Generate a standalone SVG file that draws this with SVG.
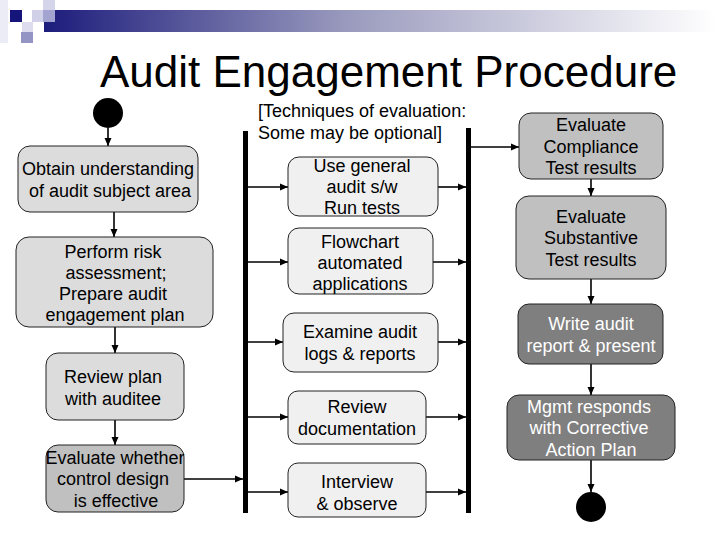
<svg xmlns="http://www.w3.org/2000/svg" width="720" height="540" viewBox="0 0 720 540">
<style>
  text { font-family: "Liberation Sans", Arial, sans-serif; font-size: 18px; fill: #000; text-anchor: middle; }
  .title { font-size: 44px; text-anchor: start; }
  .note { text-anchor: start; }
  .wt { fill: #fff; }
  .box { stroke: #222; stroke-width: 1; }
  .light { fill: #dcdcdc; }
  .pale { fill: #f0f0f0; }
  .mid { fill: #c0c0c0; }
  .dark { fill: #7f7f7f; }
  .bar { fill: #000; }
  .arrow { stroke: #000; stroke-width: 1.6; fill: none; marker-end: url(#ah); }
</style>
<defs>
  <linearGradient id="band" x1="0" y1="0" x2="1" y2="0">
    <stop offset="0" stop-color="#1c1c7c"/>
    <stop offset="0.45" stop-color="#9a9abe"/>
    <stop offset="1" stop-color="#ffffff"/>
  </linearGradient>
  <marker id="ah" markerUnits="userSpaceOnUse" markerWidth="8" markerHeight="8" refX="8" refY="4" orient="auto">
    <path d="M0,0.5 L8,4 L0,7.5 z" fill="#000"/>
  </marker>
</defs>
<rect width="720" height="540" fill="#fff"/>
<!-- header decoration -->
<g id="decoration">
  <rect x="0" y="0" width="8" height="43" fill="#ececf6"/>
  <rect x="44" y="10" width="672" height="22" fill="url(#band)"/>
  <rect x="10" y="10" width="12" height="12" fill="#14147a"/>
  <rect x="22" y="22" width="11" height="10" fill="#dcdcee"/>
  <rect x="21" y="32" width="12" height="11" fill="#9494c4"/>
  <rect x="32" y="10" width="11" height="12" fill="#d0d0e8"/>
  <rect x="43" y="0" width="12" height="10" fill="#d4d4ea"/>
  <rect x="43" y="10" width="12" height="12" fill="#a4a4d0"/>
</g>
<text class="title" x="100" y="87">Audit Engagement Procedure</text>
<g id="note">
  <text class="note" x="258" y="117">[Techniques of evaluation:</text>
  <text class="note" x="258" y="139">Some may be optional]</text>
</g>
<!-- connectors -->
<g id="connectors">
  <line class="arrow" x1="108" y1="128" x2="108" y2="146"/>
  <line class="arrow" x1="114" y1="212" x2="114" y2="237"/>
  <line class="arrow" x1="115" y1="327" x2="115" y2="353"/>
  <line class="arrow" x1="115" y1="420" x2="115" y2="445"/>
  <line class="arrow" x1="184" y1="479" x2="243" y2="479"/>
  <line class="arrow" x1="248" y1="187" x2="288" y2="187"/>
  <line class="arrow" x1="248" y1="262" x2="288" y2="262"/>
  <line class="arrow" x1="248" y1="342" x2="283" y2="342"/>
  <line class="arrow" x1="248" y1="417" x2="288" y2="417"/>
  <line class="arrow" x1="248" y1="492" x2="288" y2="492"/>
  <line class="arrow" x1="438" y1="187" x2="466" y2="187"/>
  <line class="arrow" x1="433" y1="262" x2="466" y2="262"/>
  <line class="arrow" x1="438" y1="342" x2="466" y2="342"/>
  <line class="arrow" x1="426" y1="417" x2="466" y2="417"/>
  <line class="arrow" x1="426" y1="492" x2="466" y2="492"/>
  <line class="arrow" x1="471" y1="147" x2="519" y2="147"/>
  <line class="arrow" x1="591" y1="179" x2="591" y2="196"/>
  <line class="arrow" x1="591" y1="279" x2="591" y2="304"/>
  <line class="arrow" x1="591" y1="364" x2="591" y2="395"/>
  <line class="arrow" x1="591" y1="460" x2="591" y2="492"/>
</g>
<g id="start"><circle cx="108" cy="113" r="15" fill="#000"/></g>
<g id="fork"><rect class="bar" x="243" y="131" width="5" height="382"/></g>
<g id="join"><rect class="bar" x="466" y="128" width="5" height="385"/></g>
<g id="end"><circle cx="591" cy="507" r="15" fill="#000"/></g>
<!-- left column -->
<g id="obtain">
  <rect class="box light" x="18" y="146" width="180" height="66" rx="12"/>
  <text x="108" y="175">Obtain understanding</text>
  <text x="110" y="197">of audit subject area</text>
</g>
<g id="risk">
  <rect class="box light" x="16" y="237" width="197" height="90" rx="13"/>
  <text x="113" y="258">Perform risk</text>
  <text x="116" y="279">assessment;</text>
  <text x="113" y="300">Prepare audit</text>
  <text x="115" y="321">engagement plan</text>
</g>
<g id="review-plan">
  <rect class="box light" x="46" y="353" width="138" height="67" rx="12"/>
  <text x="113" y="383">Review plan</text>
  <text x="113" y="405">with auditee</text>
</g>
<g id="evaluate-design">
  <rect class="box mid" x="46" y="445" width="138" height="67" rx="12"/>
  <text x="115" y="464">Evaluate whether</text>
  <text x="113" y="485">control design</text>
  <text x="116" y="507">is effective</text>
</g>
<!-- middle column -->
<g id="audit-sw">
  <rect class="box pale" x="288" y="157" width="150" height="59" rx="11"/>
  <text x="362" y="172">Use general</text>
  <text x="362" y="193">audit s/w</text>
  <text x="362" y="214">Run tests</text>
</g>
<g id="flowchart">
  <rect class="box pale" x="288" y="228" width="145" height="66" rx="11"/>
  <text x="360" y="248">Flowchart</text>
  <text x="360" y="269">automated</text>
  <text x="360" y="290">applications</text>
</g>
<g id="logs">
  <rect class="box pale" x="283" y="313" width="155" height="59" rx="11"/>
  <text x="360" y="338">Examine audit</text>
  <text x="360" y="360">logs &amp; reports</text>
</g>
<g id="documentation">
  <rect class="box pale" x="288" y="391" width="138" height="53" rx="10"/>
  <text x="357" y="413">Review</text>
  <text x="357" y="435">documentation</text>
</g>
<g id="interview">
  <rect class="box pale" x="288" y="463" width="138" height="54" rx="10"/>
  <text x="357" y="488">Interview</text>
  <text x="357" y="510">&amp; observe</text>
</g>
<!-- right column -->
<g id="compliance">
  <rect class="box mid" x="519" y="113" width="144" height="66" rx="12"/>
  <text x="591" y="131">Evaluate</text>
  <text x="591" y="153">Compliance</text>
  <text x="591" y="174">Test results</text>
</g>
<g id="substantive">
  <rect class="box mid" x="516" y="196" width="150" height="83" rx="13"/>
  <text x="591" y="223">Evaluate</text>
  <text x="591" y="244">Substantive</text>
  <text x="591" y="266">Test results</text>
</g>
<g id="report">
  <rect class="box dark" x="518" y="304" width="145" height="60" rx="11"/>
  <text class="wt" x="591" y="330">Write audit</text>
  <text class="wt" x="591" y="352">report &amp; present</text>
</g>
<g id="response">
  <rect class="box dark" x="507" y="395" width="168" height="65" rx="12"/>
  <text class="wt" x="589" y="413">Mgmt responds</text>
  <text class="wt" x="589" y="434">with Corrective</text>
  <text class="wt" x="591" y="456">Action Plan</text>
</g>
</svg>
